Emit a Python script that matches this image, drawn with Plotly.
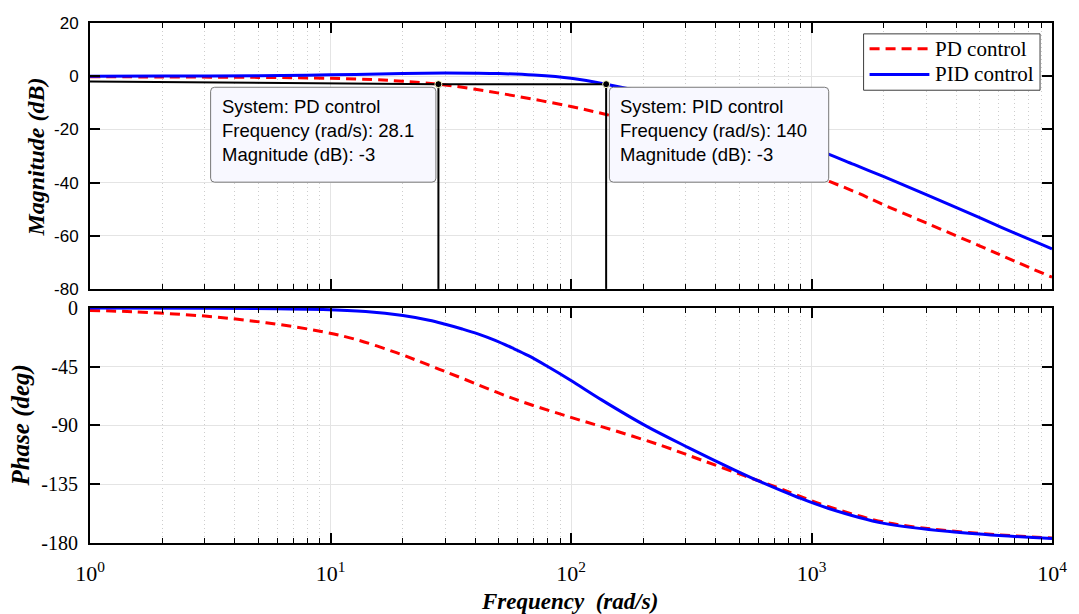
import plotly.graph_objects as go
from plotly.subplots import make_subplots

# ---------------- data ----------------
freq_mag_pd = [1, 2, 5, 10, 15, 20, 28.1, 40, 60, 100, 140, 200, 300, 500, 700,
               1000, 1500, 2000, 3000, 5000, 7000, 10000]
mag_pd = [-0.2, -0.3, -0.45, -0.8, -1.3, -1.9, -3.0, -4.9, -7.6, -11.4, -14.4, -17.8,
          -22.0, -27.8, -31.8, -37.0, -43.3, -48.4, -55.2, -63.8, -69.6, -75.6]

freq_mag_pid = [1, 2, 5, 10, 20, 30, 40, 50, 70, 100, 140, 200, 300, 500, 700,
                1000, 1500, 2000, 3000, 5000, 7000, 10000]
mag_pid = [0.0, 0.05, 0.2, 0.5, 1.0, 1.2, 1.15, 1.0, 0.4, -0.8, -3.0, -6.0, -10.3,
           -16.8, -21.5, -26.8, -33.2, -37.8, -44.5, -53.2, -59.0, -64.9]

freq_ph_pd = [1, 1.5, 3, 5.4, 9.3, 12.7, 18.8, 25.7, 35.3, 58.5, 98, 152, 238, 348,
              525, 723, 876, 1170, 2003, 4034, 10000]
phase_pd = [-2.1, -3.1, -6.4, -11.5, -18.4, -24.2, -34.4, -44.0, -54.0, -70.0, -83.4,
            -94.0, -105.5, -116.5, -128.5, -137.6, -143.6, -152.0, -164.0, -171.2, -176.2]

freq_ph_pid = [1, 3, 6, 9.3, 14, 20, 25.7, 30, 35.3, 41, 48.4, 57, 66.5, 80, 100, 134,
               203, 306, 477, 619, 876, 1170, 2003, 4034, 10000]
phase_pid = [-0.2, -0.4, -0.8, -1.3, -2.9, -6.0, -9.6, -12.7, -16.3, -20.0, -25.0, -30.8,
             -36.7, -45.0, -55.7, -70.5, -90.0, -106.8, -124.0, -133.5, -145.0, -153.4,
             -165.0, -171.8, -176.6]

# -3 dB markers (data tips)
tip_freq = [28.1, 140]
tip_mag = [-3, -3]
tip_system = ["PD control", "PID control"]
guide_freq = [1, 28.1, 140]
guide_mag = [-2, -3, -3]

x_ticks = [1, 10, 100, 1000, 10000]
x_ticktext = ["10<sup>0</sup>", "10<sup>1</sup>", "10<sup>2</sup>", "10<sup>3</sup>", "10<sup>4</sup>"]
mag_ticks = [20, 0, -20, -40, -60, -80]
phase_ticks = [0, -45, -90, -135, -180]

# ---------------- layout helpers ----------------
W, H = 1079, 614
L, R, T, B = 90, 1055, 17, 543
PW, PH = R - L, B - T


def px(x):
    return (x - L) / PW


def py(y):
    return (B - y) / PH


SERIF = "Liberation Serif, Times New Roman, serif"
SANS = "Liberation Sans, Arial, sans-serif"
RED = "rgb(255,0,0)"
BLUE = "rgb(0,0,255)"

fig = make_subplots(rows=2, cols=1, shared_xaxes=False, vertical_spacing=0.0)

# magnitude
fig.add_trace(go.Scatter(x=freq_mag_pd, y=mag_pd, mode="lines", line_shape="spline",
                         line=dict(color=RED, width=3, dash="10px,6px"), showlegend=False),
              row=1, col=1)
fig.add_trace(go.Scatter(x=freq_mag_pid, y=mag_pid, mode="lines", line_shape="spline",
                         line=dict(color=BLUE, width=3), showlegend=False), row=1, col=1)
# guide lines
fig.add_trace(go.Scatter(x=guide_freq, y=guide_mag, mode="lines",
                         line=dict(color="black", width=2), showlegend=False), row=1, col=1)
for f, m in zip(tip_freq, tip_mag):
    fig.add_trace(go.Scatter(x=[f, f], y=[m, -80], mode="lines",
                             line=dict(color="black", width=2), showlegend=False), row=1, col=1)
fig.add_trace(go.Scatter(x=tip_freq, y=tip_mag, mode="markers",
                         marker=dict(color="black", size=7,
                                     line=dict(color="rgb(255,255,200)", width=1)),
                         showlegend=False), row=1, col=1)

# phase
fig.add_trace(go.Scatter(x=freq_ph_pd, y=phase_pd, mode="lines", line_shape="spline",
                         line=dict(color=RED, width=3, dash="10px,6px"), showlegend=False),
              row=2, col=1)
fig.add_trace(go.Scatter(x=freq_ph_pid, y=phase_pid, mode="lines", line_shape="spline",
                         line=dict(color=BLUE, width=3), showlegend=False), row=2, col=1)

minor_vals = [k * 10 ** d for d in range(4) for k in range(2, 10)]
xcommon = dict(type="log", range=[0, 4], tickmode="array", tickvals=x_ticks,
               ticks="inside", ticklen=10, tickwidth=1.5, tickcolor="black",
               showline=True, linecolor="black", linewidth=2, mirror="ticks",
               showgrid=True, gridcolor="rgb(228,228,228)", gridwidth=1,
               zeroline=False,
               minor=dict(tickmode="array", tickvals=minor_vals, ticks="inside", ticklen=5,
                          tickcolor="black", tickwidth=1, showgrid=True,
                          gridcolor="rgb(205,205,205)", griddash="1px,3px", gridwidth=1))
fig.update_xaxes(**xcommon)
fig.update_xaxes(showticklabels=False, row=1, col=1)
fig.update_xaxes(ticktext=x_ticktext, tickfont=dict(family=SERIF, size=22, color="black"),
                 ticklabelstandoff=10, row=2, col=1)

ycommon = dict(ticks="inside", ticklen=10, tickwidth=1.5, tickcolor="black",
               showline=True, linecolor="black", linewidth=2, mirror="ticks",
               showgrid=True, gridcolor="rgb(228,228,228)", gridwidth=1, zeroline=False,
               ticklabelstandoff=6)
fig.update_yaxes(**ycommon)
fig.update_yaxes(range=[-80, 20], tickmode="array", tickvals=mag_ticks,
                 ticktext=[str(v) if v >= 0 else "-" + str(-v) for v in mag_ticks],
                 tickfont=dict(family=SANS, size=17, color="black"), row=1, col=1)
fig.update_yaxes(range=[-180, 0], tickmode="array", tickvals=phase_ticks,
                 ticktext=[str(v) if v >= 0 else "-" + str(-v) for v in phase_ticks],
                 tickfont=dict(family=SERIF, size=20, color="black"), row=2, col=1)

fig.update_layout(
    xaxis=dict(domain=[0, 1]), xaxis2=dict(domain=[0, 1]),
    yaxis=dict(domain=[py(286), 1]), yaxis2=dict(domain=[0, py(305)]),
    width=W, height=H, margin=dict(l=L, r=W - R, t=T, b=H - B),
    paper_bgcolor="white", plot_bgcolor="white", showlegend=False,
)

shapes = []
annotations = []


def rounded_rect(x0, y0, x1, y1, r=4):
    X0, X1 = px(x0), px(x1)
    Y0, Y1 = py(y0), py(y1)
    rx, ry = r / PW, r / PH
    return (f"M{X0+rx},{Y0} L{X1-rx},{Y0} Q{X1},{Y0} {X1},{Y0-ry} "
            f"L{X1},{Y1+ry} Q{X1},{Y1} {X1-rx},{Y1} L{X0+rx},{Y1} "
            f"Q{X0},{Y1} {X0},{Y1+ry} L{X0},{Y0-ry} Q{X0},{Y0} {X0+rx},{Y0} Z")


boxes = [(211, 82, 437, 178), (611, 82, 831, 178)]
for (bx0, by0, bx1, by1), f, m, sysname in zip(boxes, tip_freq, tip_mag, tip_system):
    shapes.append(dict(type="path", xref="paper", yref="paper",
                       path=rounded_rect(bx0, by0, bx1, by1),
                       fillcolor="rgb(248,248,255)", line=dict(color="rgb(120,120,120)", width=1),
                       layer="above"))
    fstr = f"{f:g}"
    annotations.append(dict(xref="paper", yref="paper", x=px(bx0 + 9), y=py(126),
                            xanchor="left", yanchor="middle", align="left", showarrow=False,
                            text=f"System: {sysname}<br>Frequency (rad/s): {fstr}<br>Magnitude (dB): {m}",
                            font=dict(family=SANS, size=18.5, color="black")))

# legend (drawn manually)
shapes.append(dict(type="rect", xref="paper", yref="paper", x0=px(866), x1=px(1043),
                   y0=py(85), y1=py(28), fillcolor="white",
                   line=dict(color="rgb(60,60,60)", width=1), layer="above"))
leg_items = [("PD control", RED, "10px,6px", 43), ("PID control", BLUE, "solid", 69)]
for name, col, dash, ly in leg_items:
    shapes.append(dict(type="line", xref="paper", yref="paper", x0=px(872), x1=px(932),
                       y0=py(ly), y1=py(ly), line=dict(color=col, width=3, dash=dash),
                       layer="above"))
    annotations.append(dict(xref="paper", yref="paper", x=px(936), y=py(ly), xanchor="left",
                            yanchor="middle", showarrow=False, text=name,
                            font=dict(family=SERIF, size=21, color="black")))

# axis titles
annotations.append(dict(xref="paper", yref="paper", x=px(36), y=py(153), textangle=-90,
                        showarrow=False, xanchor="center", yanchor="middle",
                        text="<b><i>Magnitude (dB)</i></b>",
                        font=dict(family=SERIF, size=24, color="black")))
annotations.append(dict(xref="paper", yref="paper", x=px(21), y=py(424), textangle=-90,
                        showarrow=False, xanchor="center", yanchor="middle",
                        text="<b><i>Phase (deg)</i></b>",
                        font=dict(family=SERIF, size=25, color="black")))
annotations.append(dict(xref="paper", yref="paper", x=px(571), y=py(602),
                        showarrow=False, xanchor="center", yanchor="middle",
                        text="<b><i>Frequency  (rad/s)</i></b>",
                        font=dict(family=SERIF, size=23, color="black")))

fig.update_layout(shapes=shapes, annotations=annotations)
fig.write_html("out.html")
